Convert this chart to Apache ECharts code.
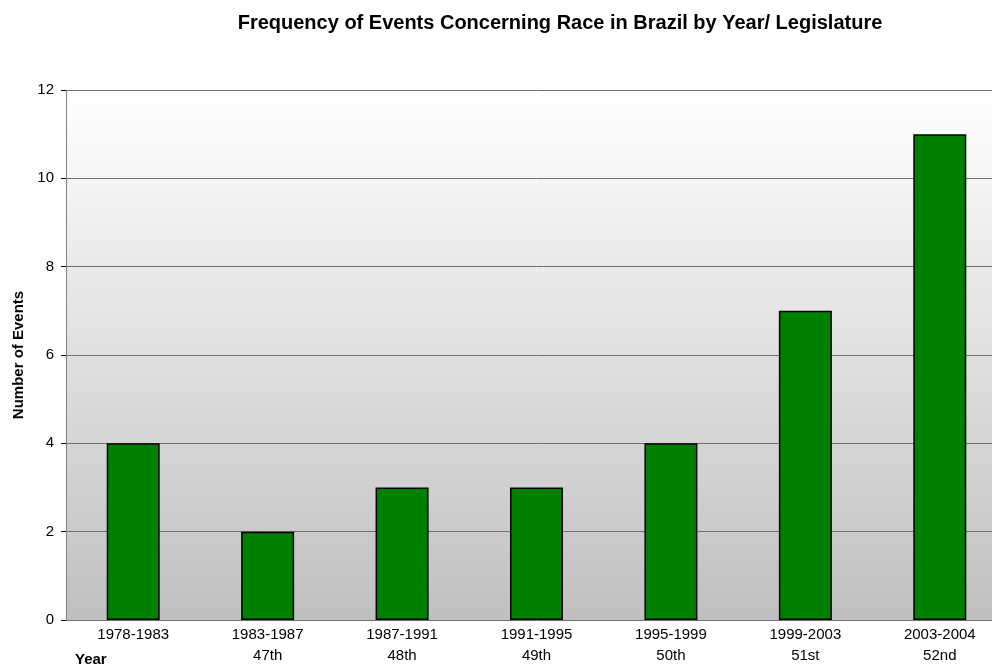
<!DOCTYPE html>
<html>
<head>
<meta charset="utf-8">
<script src="https://cdn.jsdelivr.net/npm/echarts@6/dist/echarts.min.js"></script>
<style>
  html, body { margin: 0; padding: 0; background: #fff; overflow: hidden; }
  #wrap { width: 992px; height: 668px; overflow: hidden; }
  /* the plot runs a little past the right edge of the page */
  #chart { width: 1007px; height: 668px; }
</style>
</head>
<body>
<div id="wrap"><div id="chart"></div></div>
<script>
// Legislature periods and the count of race-related events in each
const periods = ['1978-1983', '1983-1987', '1987-1991', '1991-1995', '1995-1999', '1999-2003', '2003-2004'];
const legislatures = ['', '47th', '48th', '49th', '50th', '51st', '52nd'];
const eventCounts = [4, 2, 3, 3, 4, 7, 11];
const yTicks = [0, 2, 4, 6, 8, 10, 12];

const categoryLabels = periods.map((p, i) => legislatures[i] ? p + '\n' + legislatures[i] : p);

const chart = echarts.init(document.getElementById('chart'), null, { renderer: 'canvas' });
const font = 'Liberation Sans, Arial, Helvetica, sans-serif';

chart.setOption({
  animation: false,
  backgroundColor: '#ffffff',
  title: {
    text: 'Frequency of Events Concerning Race in Brazil by Year/ Legislature',
    left: 555,
    textAlign: 'center',
    top: 8,
    textStyle: { fontFamily: font, fontSize: 20, fontWeight: 'bold', color: '#000' }
  },
  grid: {
    left: 66,
    top: 90,
    right: 0,
    bottom: 48,
    show: true,
    borderWidth: 0,
    backgroundColor: new echarts.graphic.LinearGradient(0, 0, 0, 1, [
      { offset: 0, color: '#ffffff' },
      { offset: 1, color: '#c0c0c0' }
    ])
  },
  xAxis: {
    type: 'category',
    data: categoryLabels,
    axisLine: { show: false },
    axisTick: { show: false },
    axisLabel: {
      fontFamily: font, fontSize: 15, color: '#000', margin: 4, lineHeight: 21, interval: 0
    },
    name: 'Year',
    nameLocation: 'start',
    nameGap: 0,
    nameTextStyle: {
      fontFamily: font, fontSize: 15, fontWeight: 'bold', color: '#000',
      align: 'left', verticalAlign: 'top', padding: [32, 0, 0, 9]
    }
  },
  yAxis: {
    type: 'value',
    min: 0,
    max: 12,
    interval: 2,
    axisLine: { show: true, lineStyle: { color: '#808080', width: 1 } },
    axisTick: { show: true, inside: false, length: 5, lineStyle: { color: '#000' } },
    axisLabel: {
      fontFamily: font, fontSize: 15, color: '#000', margin: 12,
      formatter: v => (yTicks.includes(v) ? String(v) : '')
    },
    splitLine: { show: true, lineStyle: { color: '#707070', width: 1 } },
    name: 'Number of Events',
    nameLocation: 'middle',
    nameGap: 40,
    nameRotate: 90,
    nameTextStyle: { fontFamily: font, fontSize: 15, fontWeight: 'bold', color: '#000' }
  },
  series: [{
    type: 'bar',
    data: eventCounts,
    barWidth: 53,
    itemStyle: { color: '#008000', borderColor: '#000', borderWidth: 1.5 }
  }]
});
</script>
</body>
</html>
